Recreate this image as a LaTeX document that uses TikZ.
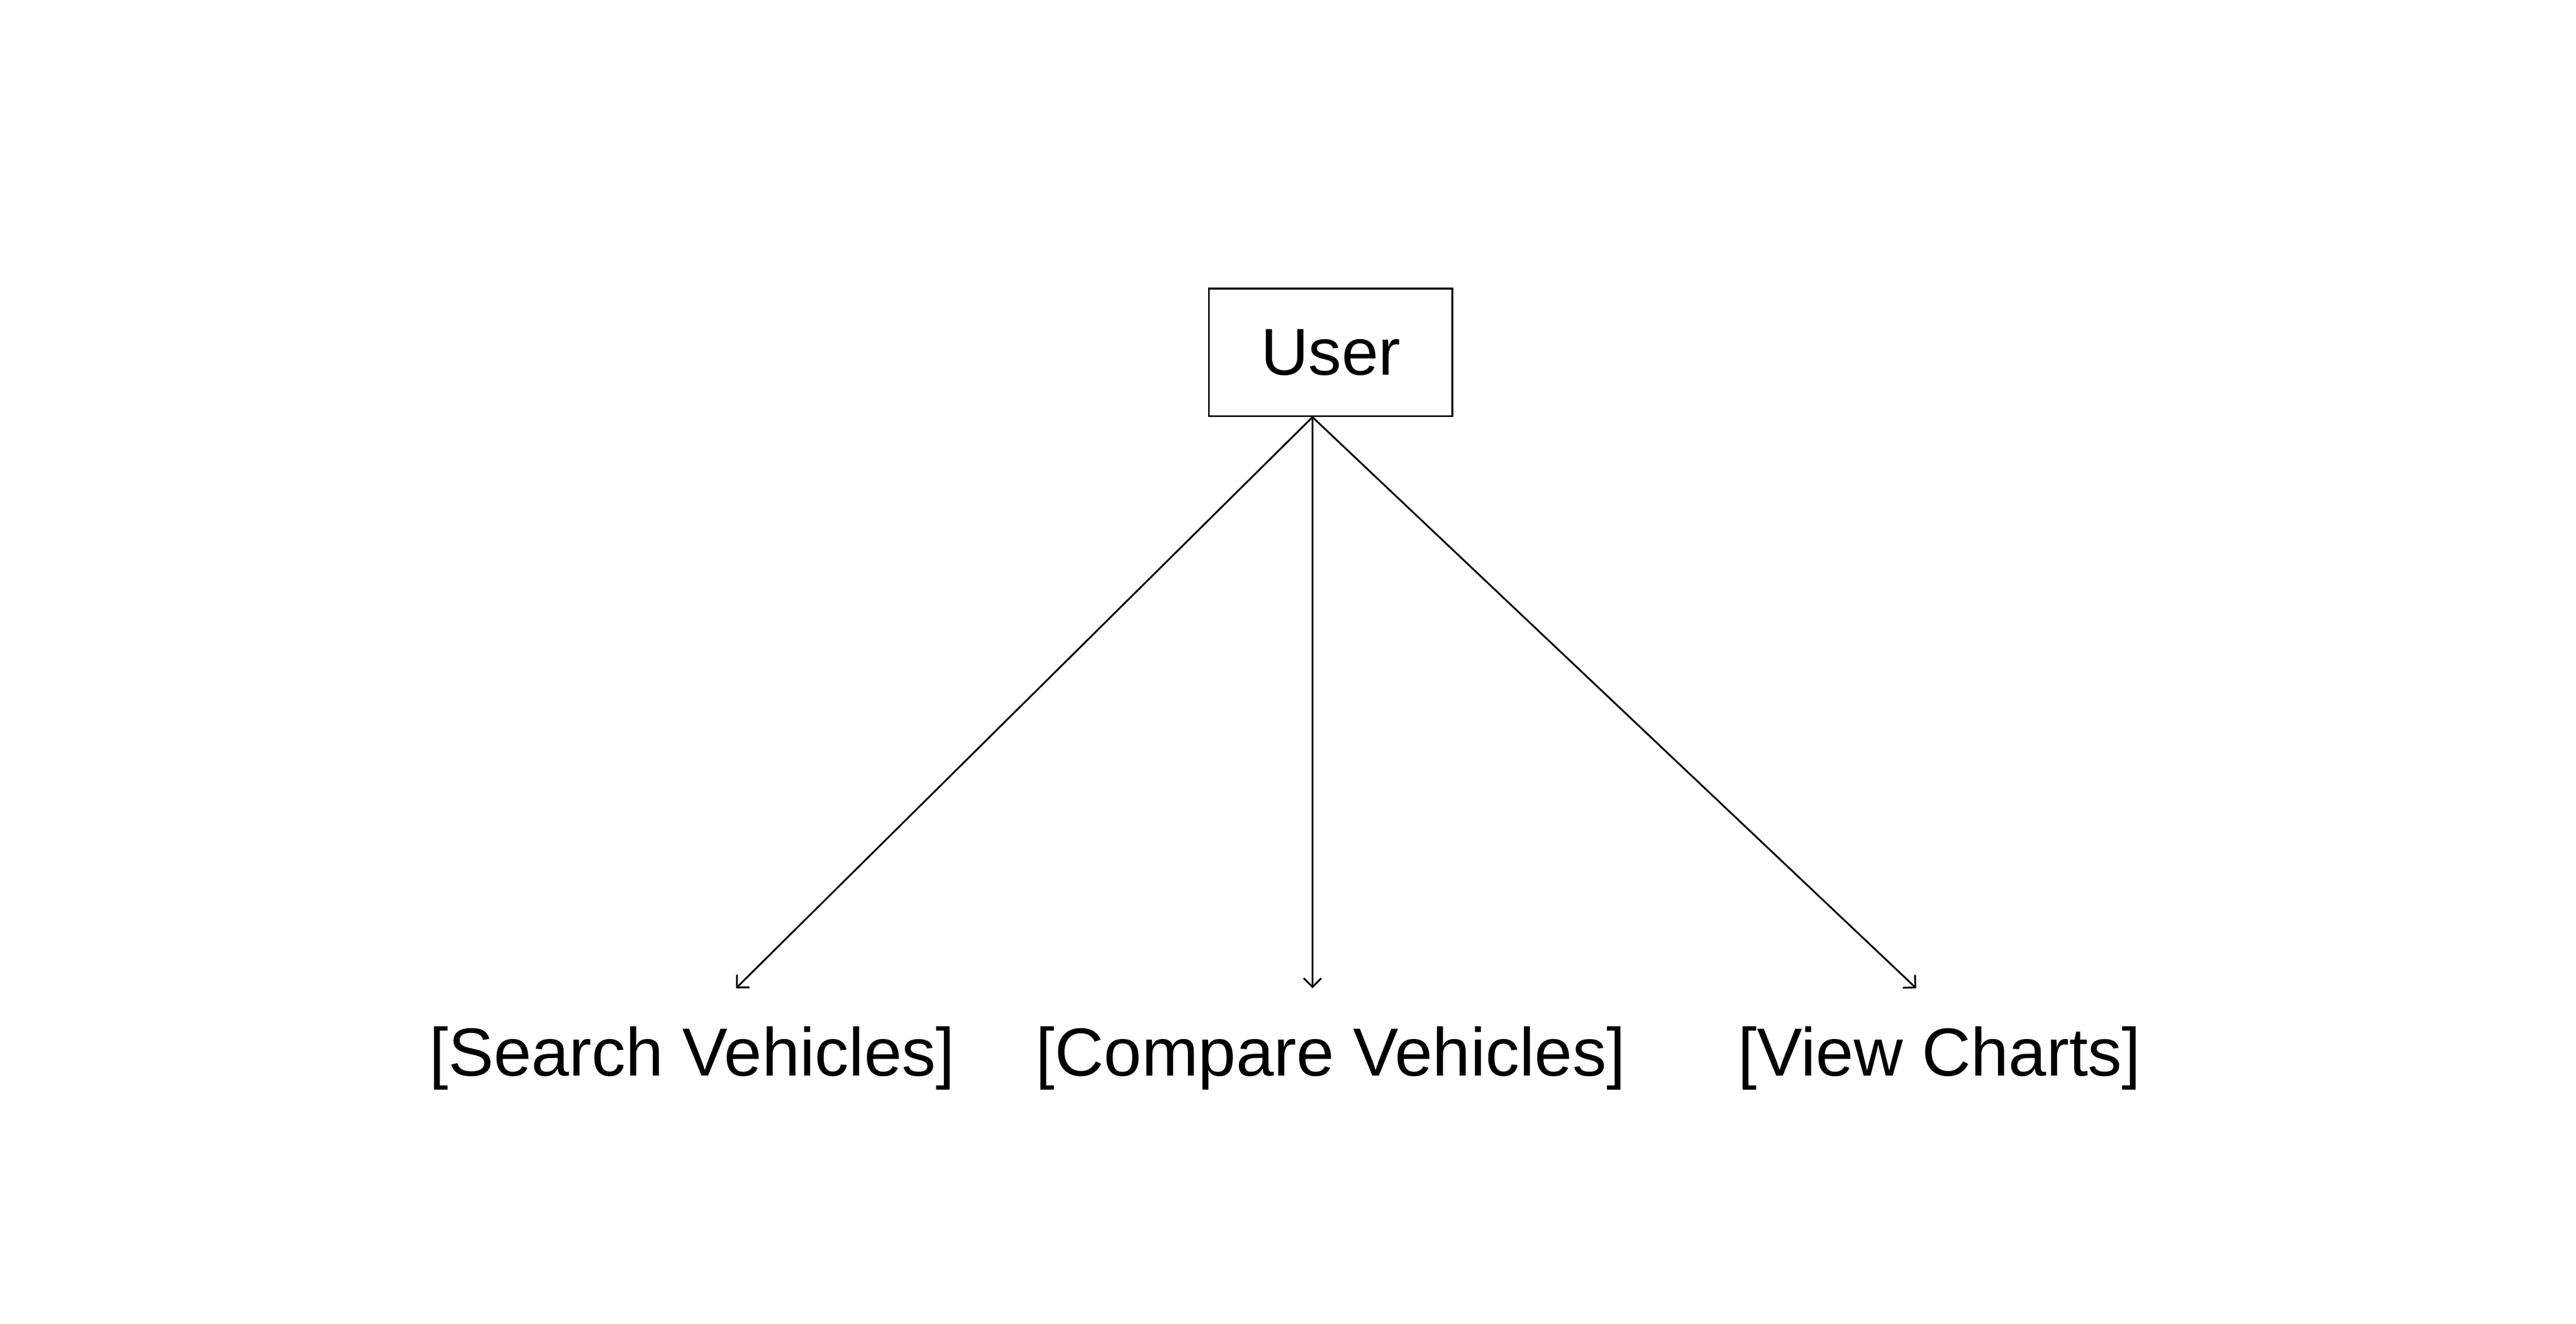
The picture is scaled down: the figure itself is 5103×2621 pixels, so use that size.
\documentclass[tikz,border=0pt]{standalone}
\usepackage{fontspec}
\setmainfont{Liberation Sans}
\usetikzlibrary{arrows.meta}
\usetikzlibrary{positioning}
\tikzstyle{usecase_style}=[
	x=0.01cm,y=-0.01cm,
	actor/.style={rectangle,fill=white,draw,line width=1.1pt,minimum width=4.82cm,minimum height=2.52cm,inner sep=0pt,font=\fontsize{37.3}{44}\selectfont},
	action/.style={rectangle,draw=none,inner sep=0pt,anchor=base,font=\fontsize{38.3}{45}\selectfont},
	arrow_edge/.style={-{Straight Barb[length=5pt,width=10pt]},line width=1pt}
]
\begin{document}
\begin{tikzpicture}[usecase_style]
		
		\useasboundingbox (0,0) rectangle (5103,2621);
		
		\node[actor]    (user)   at (2636,698)   {User};
		
		\node[action]   (search)   at (1371,2130)   {[Search Vehicles]};
		\node[action]   (compare)  at (2636,2130)   {[Compare Vehicles]};
		\node[action]   (charts)   at (3842,2130)   {[View Charts]};
		
		% free ends of the arrows, above the labels
		\coordinate (fork)       at ([xshift=-0.36cm]user.south);
		\coordinate (search_in)  at (1458,1957);
		\coordinate (compare_in) at (2600,1957);
		\coordinate (charts_in)  at (3796,1957);
		
		\path (fork) edge [arrow_edge]  (search_in)
		(fork) edge [arrow_edge]  (compare_in)
		(fork) edge [arrow_edge]  (charts_in);
		
\end{tikzpicture}
\end{document}
